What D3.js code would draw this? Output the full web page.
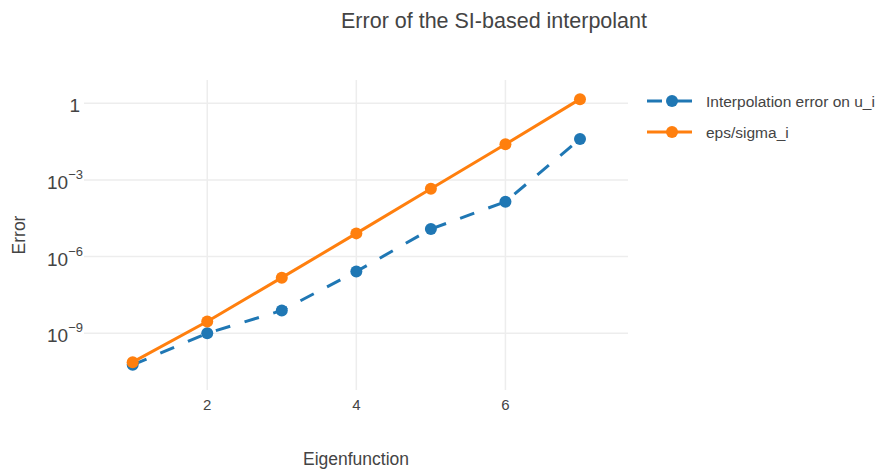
<!DOCTYPE html>
<html>
<head>
<meta charset="utf-8">
<script src="https://cdn.jsdelivr.net/npm/d3@7"></script>
<style>
  body { margin: 0; background: #fff; }
  svg text { font-family: "Liberation Sans", Arial, sans-serif; fill: #444; }
</style>
</head>
<body>
<div id="canvas"></div>
<script>
// data
var eigen = [1, 2, 3, 4, 5, 6, 7];
var interpError = [5.8e-11, 1.0e-9, 7.8e-9, 2.6e-7, 1.2e-5, 1.4e-4, 4.0e-2];
var epsSigma = [7.4e-11, 2.9e-9, 1.5e-7, 8.1e-6, 4.5e-4, 2.5e-2, 1.45];
var xTicks = [2, 4, 6];
var yTicks = [0, -3, -6, -9]; // exponents
var seriesNames = ["Interpolation error on u_i", "eps/sigma_i"];
var seriesColors = ["#1f77b4", "#ff7f0e"];

var winWidth = 876, winHeight = 470;
const margin = { top: 80, right: 248, bottom: 80, left: 84 },
  width = winWidth - margin.left - margin.right,
  height = winHeight - margin.top - margin.bottom;

var svg = d3.select("#canvas").append("svg")
  .attr("width", winWidth)
  .attr("height", winHeight);

var g = svg.append("g")
  .attr("transform", "translate(" + margin.left + "," + margin.top + ")");

var x = d3.scaleLinear()
  .domain([0.347, 7.644])
  .range([0, width]);
var y = d3.scaleLog()
  .domain([Math.pow(10, -11.22), Math.pow(10, 0.91)])
  .range([height, 0]);

// grid
g.append("g").selectAll("line")
  .data(xTicks)
  .enter().append("line")
  .attr("x1", d => x(d)).attr("x2", d => x(d))
  .attr("y1", 0).attr("y2", height)
  .attr("stroke", "#ededed").attr("stroke-width", 1.5);
g.append("g").selectAll("line")
  .data(yTicks)
  .enter().append("line")
  .attr("x1", 0).attr("x2", width)
  .attr("y1", d => y(Math.pow(10, d))).attr("y2", d => y(Math.pow(10, d)))
  .attr("stroke", "#ededed").attr("stroke-width", 1.5);

// x tick labels
g.append("g").selectAll("text")
  .data(xTicks)
  .enter().append("text")
  .attr("x", d => x(d))
  .attr("y", height + 20)
  .attr("text-anchor", "middle")
  .style("font-size", "15px")
  .text(d => d);

// y tick labels with superscripts
var yLab = g.append("g").selectAll("text")
  .data(yTicks)
  .enter().append("text")
  .attr("x", -1)
  .attr("y", d => y(Math.pow(10, d)) + 9)
  .attr("text-anchor", "end")
  .style("font-size", "19px");
yLab.each(function(d) {
  var t = d3.select(this);
  if (d === 0) { t.attr("x", -4).text("1"); return; }
  t.append("tspan").text("10");
  t.append("tspan").attr("dy", -10).style("font-size", "13px").text("\u2212" + (-d));
});

var line = d3.line()
  .x(function(d, i) { return x(eigen[i]); })
  .y(function(d) { return y(d); });

var series = [interpError, epsSigma];
series.forEach(function(vals, k) {
  g.append("path")
    .datum(vals)
    .attr("fill", "none")
    .attr("stroke", seriesColors[k])
    .attr("stroke-width", 3)
    .attr("stroke-dasharray", k === 0 ? "15,15" : null)
    .attr("d", line);
  g.append("g").selectAll("circle")
    .data(vals)
    .enter().append("circle")
    .attr("cx", (d, i) => x(eigen[i]))
    .attr("cy", d => y(d))
    .attr("r", 6)
    .attr("fill", seriesColors[k]);
});

// title
svg.append("text")
  .attr("x", 494).attr("y", 28)
  .attr("text-anchor", "middle")
  .style("font-size", "21.5px")
  .text("Error of the SI-based interpolant");

// axis titles
svg.append("text")
  .attr("x", margin.left + width / 2).attr("y", 465)
  .attr("text-anchor", "middle")
  .style("font-size", "17.5px")
  .text("Eigenfunction");
svg.append("text")
  .attr("transform", "translate(25," + (margin.top + height / 2) + ") rotate(-90)")
  .attr("text-anchor", "middle")
  .style("font-size", "17.5px")
  .text("Error");

// legend
var legend = svg.append("g").attr("transform", "translate(647,101)");
seriesNames.forEach(function(name, k) {
  var row = legend.append("g").attr("transform", "translate(0," + (k * 31) + ")");
  row.append("line")
    .attr("x1", 0).attr("x2", 45)
    .attr("stroke", seriesColors[k]).attr("stroke-width", 3)
    .attr("stroke-dasharray", k === 0 ? "15,15" : null);
  row.append("circle").attr("cx", 25).attr("r", 6).attr("fill", seriesColors[k]);
  row.append("text").attr("x", 59).attr("y", 5.5)
    .style("font-size", "15.5px")
    .text(name);
});
</script>
</body>
</html>
